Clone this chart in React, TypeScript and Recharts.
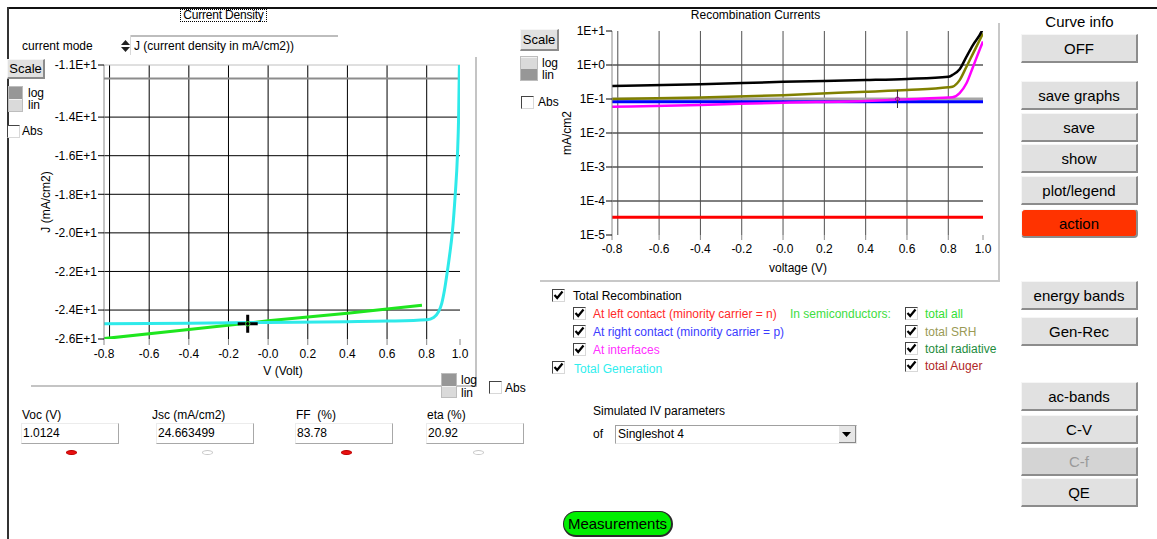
import React from 'react';
import { LineChart, Line, XAxis, YAxis, CartesianGrid, ReferenceLine, ReferenceDot } from 'recharts';

// ---------- data ----------
const voltageDomain = [-0.828, 0.968];
const voltageTicks = [-0.828, -0.6, -0.4, -0.2, 0, 0.2, 0.4, 0.6, 0.8, 0.968];
const voltageGrid = [-0.8, -0.6, -0.4, -0.2, 0, 0.2, 0.4, 0.6, 0.8];

const currentDomain = [-25.5, -11.3];
const currentTicks = [-25.5, -24, -22, -20, -18, -16, -14, -11.3];
const currentGrid = [-24, -22, -20, -18, -16, -14];

const ivVoltage = [-0.828, -0.4, 0, 0.4, 0.6, 0.8, 0.835, 0.86, 0.876, 0.89, 0.903, 0.915, 0.929, 0.944, 0.955, 0.961, 0.965];
const ivCurrent = [-24.71, -24.68, -24.64, -24.6, -24.57, -24.5, -24.38, -24.08, -23.65, -22.95, -22.08, -21.2, -20.0, -18.0, -16.0, -14.0, -11.3];

const genVoltage = [-0.828, -0.4, 0, 0.4, 0.776];
const genCurrent = [-25.48, -25.01, -24.56, -24.16, -23.75];

const ivCursor = { v: -0.103, j: -24.71 };

const recDomain = [1e-5, 10];
const recTicks = [1e-5, 1e-4, 1e-3, 1e-2, 1e-1, 1, 10];
const recGrid = [1e-4, 1e-3, 1e-2, 1];

const recVoltage = [-0.828, -0.4, 0, 0.4, 0.6, 0.8, 0.82, 0.855, 0.888, 0.92, 0.961, 0.968];
const recTotal = [0.24, 0.27, 0.32, 0.36, 0.39, 0.45, 0.51, 0.75, 1.76, 3.9, 9.6, 12];
const recSRH = [0.1, 0.11, 0.13, 0.164, 0.184, 0.22, 0.23, 0.36, 0.89, 2.2, 7.0, 8.5];
const recInterfaces = [0.059, 0.067, 0.078, 0.087, 0.098, 0.11, 0.112, 0.15, 0.29, 0.89, 3.9, 4.9];

const flatVoltage = [-0.828, 0.968];
const recRightContact = [0.083, 0.083];
const recLeftContact = [3.3e-5, 3.3e-5];

const recCursor = { v: 0.554, r: 0.1 };

const zip = (xs: number[], ys: number[], k: string) => xs.map((x, i) => ({ v: x, [k]: ys[i] }));

const ivData = zip(ivVoltage, ivCurrent, 'j');
const genData = zip(genVoltage, genCurrent, 'j');
const totalData = zip(recVoltage, recTotal, 'r');
const srhData = zip(recVoltage, recSRH, 'r');
const ifData = zip(recVoltage, recInterfaces, 'r');
const rightData = zip(flatVoltage, recRightContact, 'r');
const leftData = zip(flatVoltage, recLeftContact, 'r');

// ---------- formatters ----------
const fmtV = (v: number) => {
  const r = Math.round(v * 10) / 10;
  if (r === 0) return '-0.0';
  return r.toFixed(1);
};
const fmtJ = (v: number) => {
  const a = Math.abs(v);
  const e = Math.floor(Math.log10(a));
  const d = Math.round(a / Math.pow(10, e - 1));
  return (v < 0 ? '-' : '') + Math.floor(d / 10) + '.' + (d % 10) + 'E+' + e;
};
const fmtLog = (v: number) => {
  const e = Math.round(Math.log10(v));
  return '1E' + (e >= 0 ? '+' : '') + e;
};

const FONT = '"Liberation Sans", Arial, sans-serif';
const tickStyle = { fontSize: 12, fill: '#000', fontFamily: FONT };

// ---------- UI helpers ----------
const Txt = ({ x, y, children, size = 12, color = '#000', w, align }: any) => (
  <div
    style={{
      position: 'absolute', left: x, top: y - size * 0.6, fontSize: size, lineHeight: `${size * 1.2}px`,
      color, whiteSpace: 'nowrap', fontFamily: FONT, width: w, textAlign: align || 'left',
    }}
  >
    {children}
  </div>
);

const Check = ({ x, y, checked = true }: any) => (
  <div
    style={{
      position: 'absolute', left: x, top: y, width: 13, height: 13, background: '#fff', boxSizing: 'border-box',
      borderTop: '1px solid #444', borderLeft: '1px solid #444', borderRight: '1px solid #d8d8d8', borderBottom: '1px solid #d8d8d8',
    }}
  >
    {checked && (
      <svg width={13} height={13} style={{ position: 'absolute', left: -1, top: -1 }}>
        <path d="M2.5 6 L5.2 9 L10.5 2.5" stroke="#000" strokeWidth={2.2} fill="none" />
      </svg>
    )}
  </div>
);

const Btn = ({ x, y, w, h, label, bg = '#E1E1E1', color = '#000', size = 15, radius = 0 }: any) => (
  <div
    style={{
      position: 'absolute', left: x, top: y, width: w, height: h, boxSizing: 'border-box', background: bg,
      borderTop: '1px solid #F6F6F6', borderLeft: '1px solid #F6F6F6', borderRight: '2px solid #8C8C8C', borderBottom: '2px solid #8C8C8C',
      borderRadius: radius, display: 'flex', alignItems: 'center', justifyContent: 'center', fontSize: size, color, fontFamily: FONT,
      whiteSpace: 'nowrap', overflow: 'hidden',
    }}
  >
    {label}
  </div>
);

const LogLin = ({ x, y, w, h, topDark }: any) => {
  const dark = { background: '#979797' };
  const light = { background: '#DADADA', borderTop: '1px solid #F2F2F2', boxSizing: 'border-box' as const };
  return (
    <div style={{ position: 'absolute', left: x, top: y, width: w, height: h, border: '1px solid #BDBDBD', boxSizing: 'border-box' }}>
      <div style={{ height: '50%', ...(topDark ? dark : light) }} />
      <div style={{ height: '50%', ...(topDark ? light : dark) }} />
    </div>
  );
};

const Field = ({ x, y, w, h, value }: any) => (
  <div
    style={{
      position: 'absolute', left: x, top: y, width: w, height: h, boxSizing: 'border-box', background: '#fff',
      borderTop: '1px solid #ECECEC', borderLeft: '1px solid #ECECEC', borderRight: '1px solid #A8A8A8', borderBottom: '1px solid #A8A8A8',
      fontSize: 12, fontFamily: FONT, lineHeight: `${h - 2}px`, paddingLeft: 1,
    }}
  >
    {value}
  </div>
);

const Blob = ({ x, y, red }: any) => (
  <div
    style={{
      position: 'absolute', left: x, top: y, width: 11, height: 5, borderRadius: '50%', boxSizing: 'border-box',
      background: red ? '#E81010' : 'transparent', border: red ? '1px solid #B00' : '1px solid #C8C8C8',
    }}
  />
);

const HLine = ({ x, y, w, c = '#C8C8C8', t = 1 }: any) => (
  <div style={{ position: 'absolute', left: x, top: y, width: w, height: t, background: c }} />
);
const VLine = ({ x, y, h, c = '#C8C8C8', t = 1 }: any) => (
  <div style={{ position: 'absolute', left: x, top: y, width: t, height: h, background: c }} />
);

const IvCross = (props: any) => {
  const { cx, cy } = props;
  return (
    <g>
      <rect x={cx - 10} y={cy - 1.5} width={20} height={3} fill="#000" />
      <rect x={cx - 1.5} y={cy - 9} width={3} height={18} fill="#000" />
      <circle cx={cx} cy={cy} r={2.2} fill="none" stroke="#2EE62E" strokeWidth={1} />
    </g>
  );
};
const RecCross = (props: any) => {
  const { cx, cy } = props;
  return (
    <g>
      <line x1={cx} y1={cy - 9} x2={cx} y2={cy + 9} stroke="#333" strokeWidth={1} />
      <line x1={cx - 9} y1={cy} x2={cx + 9} y2={cy} stroke="#C050C0" strokeWidth={1} />
      <circle cx={cx} cy={cy} r={2} fill="none" stroke="#A000A0" strokeWidth={1} />
    </g>
  );
};

// ---------- charts ----------
const CurrentDensityChart = () => (
  <div style={{ position: 'absolute', left: 0, top: 0 }}>
    <LineChart width={480} height={390} margin={{ top: 65, right: 20, bottom: 21, left: 44 }}>
      <CartesianGrid stroke="#000" strokeWidth={1} horizontalValues={currentGrid} verticalValues={voltageGrid} />
      <XAxis
        type="number" dataKey="v" domain={voltageDomain} ticks={voltageTicks} tickFormatter={fmtV} interval={0}
        height={30} axisLine={false} tickLine={{ stroke: '#888' }} tickSize={6} tickMargin={4} tick={tickStyle}
        allowDataOverflow
      />
      <YAxis
        type="number" domain={currentDomain} ticks={currentTicks} tickFormatter={fmtJ} interval={0} width={60}
        axisLine={{ stroke: '#8a8a8a' }} tickLine={{ stroke: '#000' }} tickSize={6} tickMargin={1} tick={tickStyle}
        allowDataOverflow
      />
      <ReferenceLine y={-12} stroke="#8c8c8c" strokeWidth={2} />
      <ReferenceLine y={-11.3} stroke="#C0C0C0" strokeWidth={1} />
      <Line data={genData} dataKey="j" type="linear" stroke="#1EE61E" strokeWidth={3} dot={false} isAnimationActive={false} />
      <Line data={ivData} dataKey="j" type="monotone" stroke="#2EEAEA" strokeWidth={3} dot={false} isAnimationActive={false} />
      <ReferenceDot x={ivCursor.v} y={ivCursor.j} r={3} shape={IvCross} />
    </LineChart>
  </div>
);

const RecombinationChart = () => (
  <div style={{ position: 'absolute', left: 510, top: 0 }}>
    <LineChart width={500} height={290} margin={{ top: 31, right: 27, bottom: 25, left: 52 }}>
      <CartesianGrid stroke="#000" strokeWidth={1} vertical={false} horizontalValues={recGrid} />
      <CartesianGrid stroke="#505050" strokeWidth={1} horizontal={false} verticalValues={voltageGrid} />
      <XAxis
        type="number" dataKey="v" domain={voltageDomain} ticks={voltageTicks} tickFormatter={fmtV} interval={0}
        height={30} axisLine={false} tickLine={{ stroke: '#888' }} tickSize={5} tickMargin={4} tick={tickStyle}
        allowDataOverflow
      />
      <YAxis
        type="number" scale="log" domain={recDomain} ticks={recTicks} tickFormatter={fmtLog} interval={0} width={50}
        axisLine={{ stroke: '#8a8a8a' }} tickLine={{ stroke: '#000' }} tickSize={6} tickMargin={1} tick={tickStyle}
        allowDataOverflow
      />
      <ReferenceLine y={0.1} stroke="#A6A6A6" strokeWidth={3} />
      <Line data={leftData} dataKey="r" type="linear" stroke="#FF0000" strokeWidth={3} dot={false} isAnimationActive={false} />
      <Line data={rightData} dataKey="r" type="linear" stroke="#0000FF" strokeWidth={3} dot={false} isAnimationActive={false} />
      <Line data={ifData} dataKey="r" type="monotone" stroke="#FF00FF" strokeWidth={2.5} dot={false} isAnimationActive={false} />
      <Line data={srhData} dataKey="r" type="monotone" stroke="#808000" strokeWidth={2.5} dot={false} isAnimationActive={false} />
      <Line data={totalData} dataKey="r" type="monotone" stroke="#000000" strokeWidth={2.5} dot={false} isAnimationActive={false} />
      <ReferenceDot x={recCursor.v} y={recCursor.r} r={3} shape={RecCross} />
    </LineChart>
  </div>
);

export default function App() {
  return (
    <div style={{ position: 'absolute', left: 0, top: 0, width: 1157, height: 539, background: '#fff', overflow: 'hidden', fontFamily: FONT }}>
      {/* window border */}
      <HLine x={7} y={7} w={1150} c="#111" t={2} />
      <VLine x={7} y={7} h={532} c="#333" t={2} />

      {/* ---- left panel ---- */}
      <div style={{ position: 'absolute', left: 180, top: 9, width: 87, height: 13, border: '1px dotted #000', boxSizing: 'border-box', fontSize: 12, lineHeight: '11px', textAlign: 'center', fontFamily: FONT, whiteSpace: 'nowrap', letterSpacing: -0.2 }}>
        Current Density
      </div>
      <Txt x={22} y={46}>current mode</Txt>
      <svg width={11} height={14} style={{ position: 'absolute', left: 120, top: 39 }}>
        <path d="M1 6 L5.5 1 L10 6 Z" fill="#222" />
        <path d="M1 8 L5.5 13 L10 8 Z" fill="#222" />
      </svg>
      <HLine x={130} y={35} w={208} c="#BDBDBD" t={2} />
      <VLine x={130} y={35} h={20} c="#D8D8D8" />
      <Txt x={134} y={46}>J (current density in mA/cm2))</Txt>

      <Btn x={7} y={59} w={38} h={20} label="Scale" size={13} />
      <LogLin x={8} y={86} w={15} h={26} topDark />
      <Txt x={28} y={93}>log</Txt>
      <Txt x={28} y={105}>lin</Txt>
      <Check x={7} y={125} checked={false} />
      <Txt x={22} y={131}>Abs</Txt>

      <CurrentDensityChart />
      <div style={{ position: 'absolute', left: 46 - 40, top: 202 - 8, width: 80, height: 16, transform: 'rotate(-90deg)', textAlign: 'center', fontSize: 12, lineHeight: '16px', fontFamily: FONT }}>
        J (mA/cm2)
      </div>
      <Txt x={233} y={371} w={100} align="center">V (Volt)</Txt>

      <HLine x={31} y={385} w={445} c="#C4C4C4" t={2} />
      <VLine x={475} y={57} h={330} c="#C4C4C4" t={2} />

      <LogLin x={441} y={373} w={16} h={25} topDark />
      <Txt x={461} y={380}>log</Txt>
      <Txt x={461} y={393}>lin</Txt>
      <Check x={489} y={381} checked={false} />
      <Txt x={505} y={388}>Abs</Txt>

      <Txt x={22} y={415}>Voc (V)</Txt>
      <Txt x={152} y={415}>Jsc (mA/cm2)</Txt>
      <Txt x={296} y={415}>FF&nbsp;&nbsp;(%)</Txt>
      <Txt x={427} y={415}>eta (%)</Txt>
      <Field x={21} y={423} w={98} h={21} value="1.0124" />
      <Field x={156} y={423} w={98} h={21} value="24.663499" />
      <Field x={295} y={423} w={98} h={21} value="83.78" />
      <Field x={426} y={423} w={98} h={21} value="20.92" />
      <Blob x={66} y={450} red />
      <Blob x={202} y={450} />
      <Blob x={341} y={450} red />
      <Blob x={473} y={450} />

      {/* ---- right panel ---- */}
      <Txt x={690} y={15} w={131} align="center">Recombination Currents</Txt>
      <Btn x={520} y={29} w={39} h={22} label="Scale" size={13} />
      <LogLin x={520} y={56} w={18} h={25} topDark={false} />
      <Txt x={542} y={63}>log</Txt>
      <Txt x={542} y={75}>lin</Txt>
      <Check x={521} y={96} checked={false} />
      <Txt x={538} y={102}>Abs</Txt>

      <RecombinationChart />
      <div style={{ position: 'absolute', left: 567 - 30, top: 133 - 8, width: 60, height: 16, transform: 'rotate(-90deg)', textAlign: 'center', fontSize: 12, lineHeight: '16px', fontFamily: FONT }}>
        mA/cm2
      </div>
      <Txt x={738} y={268} w={120} align="center">voltage (V)</Txt>

      <VLine x={998} y={23} h={258} c="#C8C8C8" t={2} />
      <HLine x={540} y={280} w={460} c="#C8C8C8" t={2} />

      <Check x={552} y={289} />
      <Txt x={573} y={296}>Total Recombination</Txt>
      <Check x={573} y={307} />
      <Txt x={593} y={314} color="#FF2A2A">At left contact (minority carrier = n)</Txt>
      <Check x={573} y={325} />
      <Txt x={593} y={332} color="#3C3CFF">At right contact (minority carrier = p)</Txt>
      <Check x={573} y={343} />
      <Txt x={593} y={350} color="#FF30FF">At interfaces</Txt>
      <Check x={552} y={361} />
      <Txt x={574} y={369} color="#30EEEE">Total Generation</Txt>

      <Txt x={790} y={314} color="#40DD40">In semiconductors:</Txt>
      <Check x={905} y={307} />
      <Txt x={925} y={314} color="#33E033">total all</Txt>
      <Check x={905} y={325} />
      <Txt x={925} y={332} color="#9A9A55">total SRH</Txt>
      <Check x={905} y={342} />
      <Txt x={925} y={349} color="#1E8C3C">total radiative</Txt>
      <Check x={905} y={359} />
      <Txt x={925} y={366} color="#B02828">total Auger</Txt>

      <Txt x={593} y={411}>Simulated IV parameters</Txt>
      <Txt x={593} y={434}>of</Txt>
      <div style={{ position: 'absolute', left: 615, top: 425, width: 242, height: 19, boxSizing: 'border-box', background: '#fff', borderTop: '1px solid #A0A0A0', borderLeft: '1px solid #A0A0A0', borderRight: '1px solid #E8E8E8', borderBottom: '1px solid #E8E8E8', fontSize: 12, lineHeight: '17px', paddingLeft: 2, fontFamily: FONT }}>
        Singleshot 4
      </div>
      <div style={{ position: 'absolute', left: 839, top: 426, width: 17, height: 17, boxSizing: 'border-box', background: '#E6E6E6', borderRight: '1px solid #888', borderBottom: '1px solid #888' }}>
        <svg width={16} height={16} style={{ position: 'absolute', left: 0, top: 0 }}>
          <path d="M3 6 L12 6 L7.5 11 Z" fill="#000" />
        </svg>
      </div>

      {/* ---- right column ---- */}
      <Txt x={1021} y={22} w={117} align="center" size={15}>Curve info</Txt>
      <Btn x={1021} y={34} w={117} h={29} label="OFF" />
      <Btn x={1021} y={81} w={117} h={29} label="save graphs" />
      <Btn x={1021} y={113} w={117} h={29} label="save" />
      <Btn x={1021} y={144} w={117} h={29} label="show" />
      <Btn x={1021} y={176} w={117} h={29} label="plot/legend" />
      <Btn x={1021} y={209} w={117} h={29} label="action" bg="#FF3300" radius={4} />
      <Btn x={1021} y={281} w={117} h={29} label="energy bands" />
      <Btn x={1021} y={317} w={117} h={29} label="Gen-Rec" />
      <Btn x={1021} y={382} w={117} h={29} label="ac-bands" />
      <Btn x={1021} y={415} w={117} h={29} label="C-V" />
      <Btn x={1021} y={447} w={117} h={29} label="C-f" bg="#D4D4D4" color="#9A9A9A" />
      <Btn x={1021} y={478} w={117} h={29} label="QE" />

      {/* ---- bottom ---- */}
      <div style={{ position: 'absolute', left: 563, top: 511, width: 110, height: 26, boxSizing: 'border-box', background: '#00EE00', borderRadius: 13, border: '1px solid #2a2a2a', borderRightWidth: 2, borderBottomWidth: 2, display: 'flex', alignItems: 'center', justifyContent: 'center', fontSize: 15, fontFamily: FONT }}>
        Measurements
      </div>
    </div>
  );
}
